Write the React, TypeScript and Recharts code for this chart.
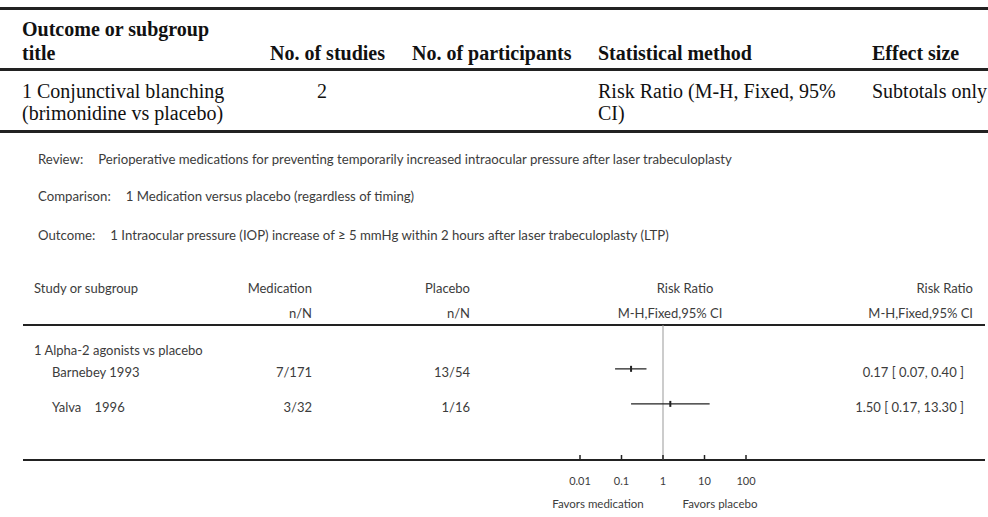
import React from "react";
import {
	ComposedChart,
	Scatter,
	XAxis,
	YAxis,
	ReferenceLine,
} from "recharts";

// summary table above the plot
const tableHeaders = ["No. of studies", "No. of participants", "Statistical method", "Effect size"];
const outcomeTitle = ["1 Conjunctival blanching", "(brimonidine vs placebo)"];
const outcomeStudies = "2";
const outcomeMethod = ["Risk Ratio (M-H, Fixed, 95%", "CI)"];
const outcomeEffect = "Subtotals only";

// forest plot
const reviewText = "Perioperative medications for preventing temporarily increased intraocular pressure after laser trabeculoplasty";
const comparisonText = "1 Medication versus placebo (regardless of timing)";
const outcomeText = "1 Intraocular pressure (IOP) increase of \u2265 5 mmHg within 2 hours after laser trabeculoplasty (LTP)";
const subgroup = "1 Alpha-2 agonists vs placebo";
const studies = ["Barnebey 1993", "Yalva\u00a0\u00a0\u00a0\u00a01996"];
const medication = ["7/171", "3/32"];
const placebo = ["13/54", "1/16"];
const riskRatio = [0.17, 1.5];
const ciLow = [0.07, 0.17];
const ciHigh = [0.4, 13.3];
const axisTicks = [0.01, 0.1, 1, 10, 100];
const axisLabels = ["0.01", "0.1", "1", "10", "100"];

const W = 988;
const H = 517;
const SERIF = "'Liberation Serif', 'Times New Roman', serif";
const SANS = "Lato, 'Open Sans', sans-serif";
const INK = "#3c3c3c";

const rowY = (i: number) => 372 + i * 35;

function Txt({
	x,
	y,
	align = "left",
	children,
	style,
}: {
	x: number;
	y: number;
	align?: "left" | "right" | "center";
	children: React.ReactNode;
	style?: React.CSSProperties;
}) {
	const pos: React.CSSProperties =
		align === "right"
			? { right: W - x, transform: "translateY(-50%)" }
			: align === "center"
			? { left: x, transform: "translate(-50%, -50%)" }
			: { left: x, transform: "translateY(-50%)" };
	return (
		<div
			style={{
				position: "absolute",
				top: y,
				whiteSpace: "pre",
				lineHeight: 1,
				...pos,
				...style,
			}}
		>
			{children}
		</div>
	);
}

function Rule({ y, x1 = 0, x2 = W, h = 3, color = "#222" }: { y: number; x1?: number; x2?: number; h?: number; color?: string }) {
	return (
		<div
			style={{
				position: "absolute",
				left: x1,
				width: x2 - x1,
				top: y - h / 2,
				height: h,
				background: color,
			}}
		/>
	);
}

function AxisTick(props: any) {
	const { x, y, payload } = props;
	const i = axisTicks.indexOf(payload.value);
	return (
		<g>
			<line x1={x} x2={x} y1={y - 5} y2={y} stroke="#222" strokeWidth={1.5} />
			<text x={x} y={y + 22} textAnchor="middle" dominantBaseline="middle" fontFamily={SANS} fontSize={11} fill={INK}>
				{axisLabels[i] ?? payload.value}
			</text>
		</g>
	);
}

function PointMark(props: any) {
	const { cx, cy } = props;
	return <rect x={cx - 1} y={cy - 3} width={2} height={6} fill="#222" />;
}

function InfoLine({ y, label, text }: { y: number; label: string; text: string }) {
	return (
		<Txt x={38} y={y} style={{ fontFamily: SANS, fontSize: 13.2, color: INK }}>
			<span style={{ marginRight: 15 }}>{label}</span>
			{text}
		</Txt>
	);
}

export default function App() {
	const points = riskRatio.map((rr, i) => ({ x: rr, y: i }));
	const fmt = (i: number) =>
		`${riskRatio[i].toFixed(2)} [ ${ciLow[i].toFixed(2)}, ${ciHigh[i].toFixed(2)} ]`;

	const sans: React.CSSProperties = { fontFamily: SANS, fontSize: 13, color: INK };
	const small: React.CSSProperties = { fontFamily: SANS, fontSize: 11.5, color: INK };
	const serif: React.CSSProperties = { fontFamily: SERIF, fontSize: 20, color: "#111" };
	const bold: React.CSSProperties = { ...serif, fontWeight: 700 };
	const colX = [270, 412, 598, 872];

	return (
		<div style={{ position: "relative", width: W, height: H, background: "#fff" }}>
			<style>{`body{margin:0}`}</style>

			{/* summary table */}
			<Rule y={8} />
			<Txt x={22} y={29} style={bold}>Outcome or subgroup</Txt>
			<Txt x={22} y={53} style={bold}>title</Txt>
			{tableHeaders.map((h, i) => (
				<Txt key={h} x={colX[i]} y={53} style={bold}>{h}</Txt>
			))}
			<Rule y={69} />
			<Txt x={22} y={91} style={serif}>{outcomeTitle[0]}</Txt>
			<Txt x={22} y={113} style={serif}>{outcomeTitle[1]}</Txt>
			<Txt x={322} y={91} align="center" style={serif}>{outcomeStudies}</Txt>
			<Txt x={colX[2]} y={91} style={serif}>{outcomeMethod[0]}</Txt>
			<Txt x={colX[2]} y={113} style={serif}>{outcomeMethod[1]}</Txt>
			<Txt x={colX[3]} y={91} style={serif}>{outcomeEffect}</Txt>
			<Rule y={131} />

			{/* review info */}
			<InfoLine y={160} label="Review:" text={reviewText} />
			<InfoLine y={197} label="Comparison:" text={comparisonText} />
			<InfoLine y={236} label="Outcome:" text={outcomeText} />

			{/* forest header */}
			<Txt x={34} y={288} style={sans}>Study or subgroup</Txt>
			<Txt x={312} y={288} align="right" style={sans}>Medication</Txt>
			<Txt x={312} y={313} align="right" style={sans}>n/N</Txt>
			<Txt x={470} y={288} align="right" style={sans}>Placebo</Txt>
			<Txt x={470} y={313} align="right" style={sans}>n/N</Txt>
			<Txt x={685} y={288} align="center" style={sans}>Risk Ratio</Txt>
			<Txt x={670} y={313} align="center" style={sans}>M-H,Fixed,95% CI</Txt>
			<Txt x={973} y={288} align="right" style={sans}>Risk Ratio</Txt>
			<Txt x={973} y={313} align="right" style={sans}>M-H,Fixed,95% CI</Txt>
			<Rule y={325} x1={23} x2={985} h={2.5} />

			<Txt x={34} y={350} style={sans}>{subgroup}</Txt>
			{studies.map((s, i) => (
				<React.Fragment key={s}>
					<Txt x={52} y={rowY(i)} style={sans}>{s}</Txt>
					<Txt x={312} y={rowY(i)} align="right" style={sans}>{medication[i]}</Txt>
					<Txt x={470} y={rowY(i)} align="right" style={sans}>{placebo[i]}</Txt>
					<Txt x={964} y={rowY(i)} align="right" style={sans}>{fmt(i)}</Txt>
				</React.Fragment>
			))}

			<Rule y={460} x1={23} x2={985} h={2.5} />
			<Txt x={598} y={504} align="center" style={small}>Favors medication</Txt>
			<Txt x={720} y={504} align="center" style={small}>Favors placebo</Txt>

			<div style={{ position: "absolute", left: 0, top: 0 }}>
				<ComposedChart
					width={W}
					height={H}
					margin={{ top: 325, right: 242, bottom: 0, left: 580 }}
				>
					<XAxis
						type="number"
						dataKey="x"
						scale="log"
						domain={[0.01, 100]}
						ticks={axisTicks}
						allowDataOverflow
						axisLine={false}
						tickLine={false}
						tickSize={0}
						tickMargin={0}
						height={57}
						tick={<AxisTick />}
						interval={0}
					/>
					<YAxis type="number" dataKey="y" domain={[-1.25, 2.6]} reversed hide />
					<ReferenceLine x={1} stroke="#999" strokeWidth={1} />
					{studies.map((s, i) => (
						<Scatter
							key={s}
							data={[
								{ x: ciLow[i], y: i },
								{ x: ciHigh[i], y: i },
							]}
							line={{ stroke: "#222", strokeWidth: 1.2 }}
							shape={() => <g />}
							isAnimationActive={false}
						/>
					))}
					<Scatter data={points} shape={<PointMark />} isAnimationActive={false} />
				</ComposedChart>
			</div>
		</div>
	);
}
